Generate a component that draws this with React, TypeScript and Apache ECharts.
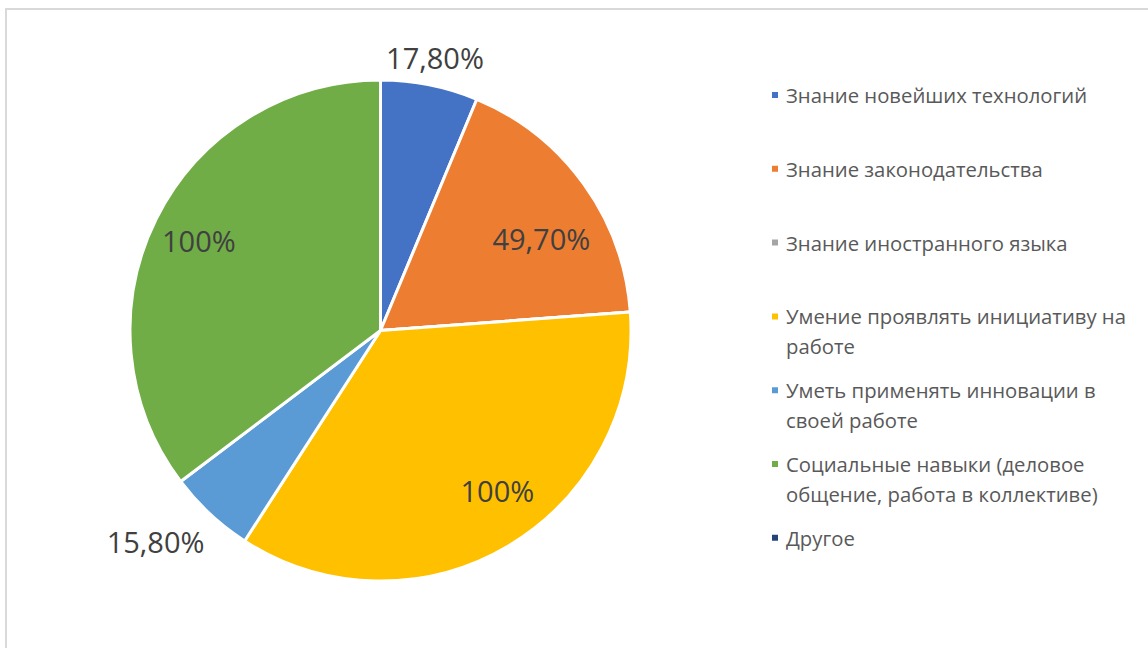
import React, { useEffect, useRef } from "react";
import * as echarts from "echarts";

const categories = [
  "Знание новейших технологий",
  "Знание законодательства",
  "Знание иностранного языка",
  "Умение проявлять инициативу на работе",
  "Уметь применять инновации в своей работе",
  "Социальные навыки (деловое общение, работа в коллективе)",
  "Другое",
];
const values = [17.8, 49.7, 0, 100, 15.8, 100, 0];
const legendTexts = [
  "Знание новейших технологий",
  "Знание законодательства",
  "Знание иностранного языка",
  "Умение проявлять инициативу на\nработе",
  "Уметь применять инновации в\nсвоей работе",
  "Социальные навыки (деловое\nобщение, работа в коллективе)",
  "Другое",
];
const colors = ["#4472C4", "#ED7D31", "#A5A5A5", "#FFC000", "#5B9BD5", "#70AD47", "#264478"];
// label placement style: distance from centre as a share of the radius, and angular shift (degrees)
const labelDist = [1.11, 0.74, 0.8, 0.79, 1.23, 0.81, 0.8];
const labelShift = [0, 6, 0, -5.5, 4, 0, 0];

const FONT = "'Open Sans', 'Noto Sans', sans-serif";
const CX = 380.5;
const CY = 330.5;
const R = 250.5;

function fmt(v: number): string {
  if (v === 0) return "";
  if (Number.isInteger(v)) return v + "%";
  return v.toFixed(2).replace(".", ",") + "%";
}

export default function App() {
  const ref = useRef<HTMLDivElement>(null);
  useEffect(() => {
    document.body.style.margin = "0";
    document.body.style.overflow = "hidden";
    const chart = echarts.init(ref.current!, null, { renderer: "svg" });
    const legends = categories.map((name, i) => {
      const twoLine = legendTexts[i].indexOf("\n") >= 0;
      const c = 95 + i * 73.8;
      return {
        orient: "vertical",
        left: 770,
        top: twoLine ? c - 45 : c - 15,
        padding: 0,
        selectedMode: false,
        icon: "rect",
        itemWidth: 8,
        itemHeight: 8,
        data: [name],
        // leading empty line keeps the marker level with the first text line
        formatter: () => (twoLine ? "\n" + legendTexts[i] : legendTexts[i]),
        textStyle: {
          fontFamily: FONT,
          fontSize: 20.3,
          color: "#595959",
          lineHeight: 30,
          padding: [0, 0, 0, 2],
        },
      };
    });
    chart.setOption({
      animation: false,
      color: colors,
      graphic: [
        {
          type: "rect",
          shape: { x: 6, y: 9, width: 1300, height: 800 },
          style: { fill: "none", stroke: "#d9d9d9", lineWidth: 2 },
          silent: true,
        },
      ],
      legend: legends,
      series: [
        {
          type: "pie",
          center: [CX, CY],
          radius: R,
          startAngle: 90,
          clockwise: true,
          avoidLabelOverlap: false,
          itemStyle: { borderColor: "#ffffff", borderWidth: 3 },
          label: {
            show: true,
            position: "inside",
            fontFamily: FONT,
            fontSize: 29,
            color: "#404040",
            formatter: (p: any) => fmt(p.value),
          },
          labelLine: { show: false },
          labelLayout: (p: any) => {
            const r = p.labelRect;
            const lx = r.x + r.width / 2;
            const ly = r.y + r.height / 2;
            const a = Math.atan2(ly - CY, lx - CX) + (labelShift[p.dataIndex] * Math.PI) / 180;
            const d = labelDist[p.dataIndex] * R;
            return { x: CX + d * Math.cos(a), y: CY + d * Math.sin(a), align: "center", verticalAlign: "middle" };
          },
          emphasis: { disabled: true },
          data: categories.map((name, i) => ({ name, value: values[i] })),
        },
      ],
    });
    return () => chart.dispose();
  }, []);
  return <div ref={ref} style={{ width: 1148, height: 648 }} />;
}
